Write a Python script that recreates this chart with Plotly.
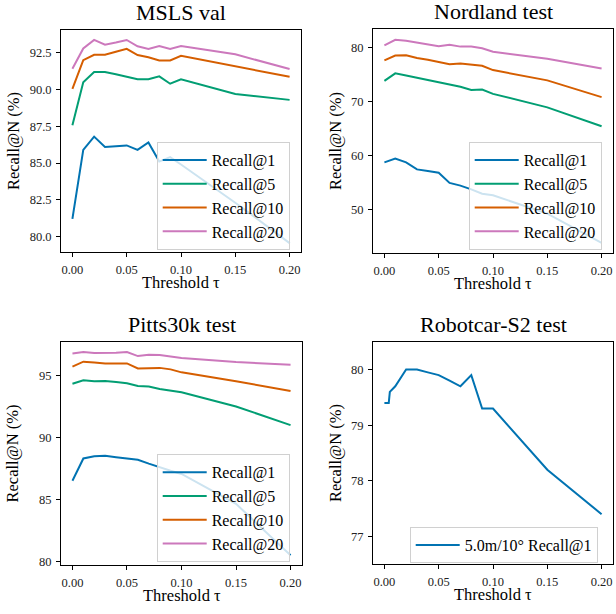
import plotly.graph_objects as go

# ---------------- data ----------------
tau = [0.0, 0.01, 0.02, 0.03, 0.04, 0.05, 0.06, 0.07, 0.08, 0.09, 0.10, 0.15, 0.20]

msls_r1 = [81.2, 85.9, 86.8, 86.1, 86.15, 86.2, 85.9, 86.4, 85.1, 85.4, 84.9, 82.3, 79.55]
msls_r5 = [87.57, 90.5, 91.2, 91.2, 91.05, 90.9, 90.7, 90.7, 90.9, 90.4, 90.7, 89.7, 89.3]
msls_r10 = [90.05, 92.0, 92.37, 92.37, 92.57, 92.77, 92.35, 92.2, 91.98, 91.98, 92.3, 91.6, 90.87]
msls_r20 = [91.42, 92.8, 93.38, 93.06, 93.2, 93.38, 92.95, 92.77, 92.97, 92.77, 92.97, 92.4, 91.4]

nord_r1 = [58.8, 59.5, 58.8, 57.5, 57.2, 56.9, 55.0, 54.5, 53.8, 53.0, 52.7, 49.3, 43.9]
nord_r5 = [73.9, 75.3, 74.9, 74.5, 74.05, 73.6, 73.2, 72.8, 72.2, 72.3, 71.5, 69.0, 65.5]
nord_r10 = [77.7, 78.6, 78.65, 78.15, 77.8, 77.4, 77.0, 77.1, 76.9, 76.7, 75.9, 74.0, 70.9]
nord_r20 = [80.5, 81.5, 81.35, 81.0, 80.65, 80.3, 80.6, 80.25, 80.25, 79.95, 79.3, 78.0, 76.2]

pitts_r1 = [86.53, 88.32, 88.5, 88.53, 88.42, 88.32, 88.21, 87.9, 87.6, 87.33, 87.07, 84.67, 80.53]
pitts_r5 = [94.33, 94.6, 94.52, 94.55, 94.46, 94.36, 94.15, 94.1, 93.9, 93.8, 93.64, 92.5, 91.0]
pitts_r10 = [95.7, 96.1, 96.04, 95.96, 95.96, 95.96, 95.56, 95.6, 95.6, 95.48, 95.24, 94.52, 93.75]
pitts_r20 = [96.76, 96.87, 96.8, 96.79, 96.82, 96.87, 96.55, 96.65, 96.63, 96.52, 96.4, 96.07, 95.85]

robot_tau = [0.0, 0.004, 0.005, 0.01, 0.02, 0.03, 0.04, 0.05, 0.06, 0.07, 0.08, 0.09, 0.10, 0.15, 0.20]
robot_r1 = [79.4, 79.4, 79.6, 79.7, 80.0, 80.0, 79.95, 79.9, 79.8, 79.7, 79.9, 79.3, 79.3, 78.2, 77.4]

series_names = ["Recall@1", "Recall@5", "Recall@10", "Recall@20"]
colors = ["#0173b2", "#029e73", "#d55e00", "#cc78bc"]
titles = ["MSLS val", "Nordland test", "Pitts30k test", "Robotcar-S2 test"]
xticks = [0.0, 0.05, 0.10, 0.15, 0.20]
x_label = "Threshold τ"
y_label = "Recall@N (%)"

W, H = 616, 614
FONT = "'Liberation Serif', 'Times New Roman', Times, serif"

def px_x(p):
    return p / W

def px_y(p):
    return 1 - p / H

# panel pixel boxes: left, right, top, bottom
boxes = [(61, 301, 30, 254), (373, 613, 29, 255), (61, 302, 344, 569), (373, 613, 344, 568)]
yranges = [[78.92, 94.07], [41.95, 83.55], [79.73, 97.7], [76.5, 80.5]]
yticks = [[80.0, 82.5, 85.0, 87.5, 90.0, 92.5], [50, 60, 70, 80], [80, 85, 90, 95], [77, 78, 79, 80]]
yfmt = [".1f", "d", "d", "d"]
legend_pos = [(156.7, 143), (468.7, 143), (156.7, 457.3), (409.7, 530.5)]
ytitle_x = [13, 335, 13, 335]

fig = go.Figure()

panels = [
    [msls_r1, msls_r5, msls_r10, msls_r20],
    [nord_r1, nord_r5, nord_r10, nord_r20],
    [pitts_r1, pitts_r5, pitts_r10, pitts_r20],
]

for i, data in enumerate(panels):
    sfx = "" if i == 0 else str(i + 1)
    for name, vals, c in zip(series_names, data, colors):
        fig.add_trace(go.Scatter(
            x=tau, y=vals, mode="lines", name=name,
            line=dict(color=c, width=2),
            xaxis="x" + sfx, yaxis="y" + sfx,
            legend="legend" + sfx,
        ))

fig.add_trace(go.Scatter(
    x=robot_tau, y=robot_r1, mode="lines", name="5.0m/10° Recall@1",
    line=dict(color=colors[0], width=2),
    xaxis="x4", yaxis="y4", legend="legend4",
))

layout = dict(
    width=W, height=H,
    margin=dict(l=0, r=0, t=0, b=0),
    paper_bgcolor="white", plot_bgcolor="white",
    font=dict(family=FONT, size=12, color="black"),
    annotations=[],
)

for i in range(4):
    l, r, t, b = boxes[i]
    sfx = "" if i == 0 else str(i + 1)
    ax_common = dict(
        showline=True, linecolor="black", linewidth=1, mirror=True,
        ticks="outside", ticklen=4, tickwidth=1, tickcolor="black",
        showgrid=False, zeroline=False,
        tickfont=dict(family=FONT, size=12.5, color="#222"),
    )
    layout["xaxis" + sfx] = dict(
        domain=[px_x(l), px_x(r)], anchor="y" + sfx,
        range=[-0.0105, 0.2105], tickvals=xticks, tickformat=".2f",
        ticklabelstandoff=2,
        **ax_common,
    )
    layout["yaxis" + sfx] = dict(
        domain=[px_y(b), px_y(t)], anchor="x" + sfx,
        range=yranges[i], tickvals=yticks[i], tickformat=yfmt[i],
        ticklabelstandoff=2,
        **ax_common,
    )
    # subplot title
    layout["annotations"].append(dict(
        text=titles[i], x=(px_x(l) + px_x(r)) / 2, y=px_y(t) + 3 / H,
        xref="paper", yref="paper", xanchor="center", yanchor="bottom",
        showarrow=False, font=dict(family=FONT, size=22, color="black"),
    ))
    # x axis label
    layout["annotations"].append(dict(
        text=x_label, x=(px_x(l) + px_x(r)) / 2, y=px_y(b + 30),
        xref="paper", yref="paper", xanchor="center", yanchor="middle",
        showarrow=False, borderpad=0, font=dict(family=FONT, size=16.5, color="black"),
    ))
    # y axis label
    layout["annotations"].append(dict(
        text=y_label, x=px_x(ytitle_x[i]), y=(px_y(b) + px_y(t)) / 2,
        xref="paper", yref="paper", xanchor="center", yanchor="middle",
        textangle=-90, borderpad=0,
        showarrow=False, font=dict(family=FONT, size=16.5, color="black"),
    ))
    lx, ly = legend_pos[i]
    layout["legend" + sfx] = dict(
        x=px_x(lx), y=px_y(ly), xanchor="left", yanchor="top",
        bgcolor="rgba(255,255,255,0.8)", bordercolor="#d0d0d0", borderwidth=1,
        font=dict(family=FONT, size=16, color="black"),
        itemwidth=44, tracegroupgap=0,
    )

fig.update_layout(**layout)
fig.write_html(
    "out.html",
    config={"displayModeBar": False},
    post_script="document.body.style.margin='0';document.body.style.padding='0';",
)
